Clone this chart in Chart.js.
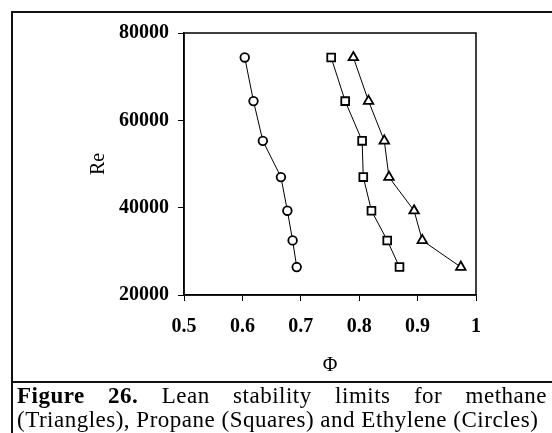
<!DOCTYPE html>
<html>
<head>
<meta charset="utf-8">
<script src="https://cdn.jsdelivr.net/npm/chart.js@4"></script>
<style>
  html, body { margin: 0; padding: 0; background: #fff; }
  #wrap { position: relative; width: 552px; height: 433px; overflow: hidden; }
  #chart { position: absolute; left: 0; top: 0; }
  .line { position: absolute; background: #111; }
  #caption {
    position: absolute; left: 17px; top: 384px; width: 530px;
    font-family: "Liberation Serif", "Times New Roman", serif;
    font-size: 23px; line-height: 24px; letter-spacing: 0.5px; color: #000;
  }
  #caption .l1 { text-align: justify; text-align-last: justify; white-space: nowrap; }
  #caption .l2 { white-space: nowrap; }
</style>
</head>
<body>
<div id="wrap">
  <canvas id="chart" width="552" height="382"></canvas>
  <div class="line" style="left:12px; top:11px; width:540px; height:2px;"></div>
  <div class="line" style="left:11px; top:11px; width:2px; height:422px;"></div>
  <div class="line" style="left:12px; top:381px; width:540px; height:2px;"></div>
  <div id="caption">
    <div class="l1"><b>Figure 26.</b> Lean stability limits for methane</div>
    <div class="l2">(Triangles), Propane (Squares) and Ethylene (Circles)</div>
  </div>
</div>
<script>
// Re values shared by all three fuels
const reynolds = [74400, 64400, 55300, 47000, 39300, 32500, 26400];
const methanePhi = [0.790, 0.816, 0.843, 0.851, 0.894, 0.908, 0.974];
const propanePhi = [0.752, 0.776, 0.805, 0.807, 0.821, 0.848, 0.869];
const ethylenePhi = [0.604, 0.619, 0.635, 0.666, 0.677, 0.686, 0.693];
const xTicks = [0.5, 0.6, 0.7, 0.8, 0.9, 1];
const yTicks = [20000, 40000, 60000, 80000];

const serif = '"Liberation Serif", "Times New Roman", serif';

function pts(xs) {
    return xs.map((x, i) => ({ x: x, y: reynolds[i] }));
}

function series(label, xs, style, radius) {
    return {
        label: label,
        data: pts(xs),
        showLine: true,
        borderColor: '#000',
        borderWidth: 1,
        tension: 0,
        pointStyle: style,
        pointRadius: radius,
        pointBorderWidth: 1.8,
        pointBackgroundColor: '#fff',
        pointBorderColor: '#000'
    };
}

// box around the plot area
const frame = {
    id: 'frame',
    afterDraw(chart) {
        const a = chart.chartArea;
        const ctx = chart.ctx;
        ctx.save();
        ctx.strokeStyle = '#000';
        ctx.lineWidth = 1.5;
        ctx.strokeRect(a.left, a.top, a.right - a.left, a.bottom - a.top);
        ctx.restore();
    }
};

new Chart(document.getElementById('chart'), {
    type: 'scatter',
    data: {
        datasets: [
            series('Methane', methanePhi, 'triangle', 5.5),
            series('Propane', propanePhi, 'rect', 5.5),
            series('Ethylene', ethylenePhi, 'circle', 4.3)
        ]
    },
    options: {
        responsive: false,
        animation: false,
        layout: { padding: { left: 0, right: 76, top: 33, bottom: 0 } },
        plugins: { legend: { display: false }, tooltip: { enabled: false } },
        scales: {
            x: {
                type: 'linear',
                min: 0.5,
                max: 1,
                afterBuildTicks: s => { s.ticks = xTicks.map(v => ({ value: v })); },
                afterFit: s => { s.height = 87; },
                grid: { display: true, drawOnChartArea: false, drawTicks: true, tickLength: 6, color: '#000' },
                border: { display: true, color: '#000', width: 1.5 },
                ticks: {
                    color: '#000',
                    padding: 14,
                    font: { family: serif, size: 20, weight: 'bold' },
                    callback: v => String(v)
                },
                title: {
                    display: true,
                    text: 'Φ',
                    color: '#000',
                    font: { family: serif, size: 20 },
                    padding: { top: 0, bottom: 4 }
                }
            },
            y: {
                type: 'linear',
                min: 20000,
                max: 80000,
                afterBuildTicks: s => { s.ticks = yTicks.map(v => ({ value: v })); },
                afterFit: s => { s.width = 184; },
                grid: { display: true, drawOnChartArea: false, drawTicks: true, tickLength: 6, color: '#000' },
                border: { display: true, color: '#000', width: 1.5 },
                ticks: {
                    color: '#000',
                    padding: 9,
                    font: { family: serif, size: 20, weight: 'bold' },
                    callback: v => String(v)
                },
                title: {
                    display: true,
                    text: 'Re',
                    color: '#000',
                    font: { family: serif, size: 20 },
                    padding: { top: 87, bottom: 0 }
                }
            }
        }
    },
    plugins: [frame]
});
</script>
</body>
</html>
